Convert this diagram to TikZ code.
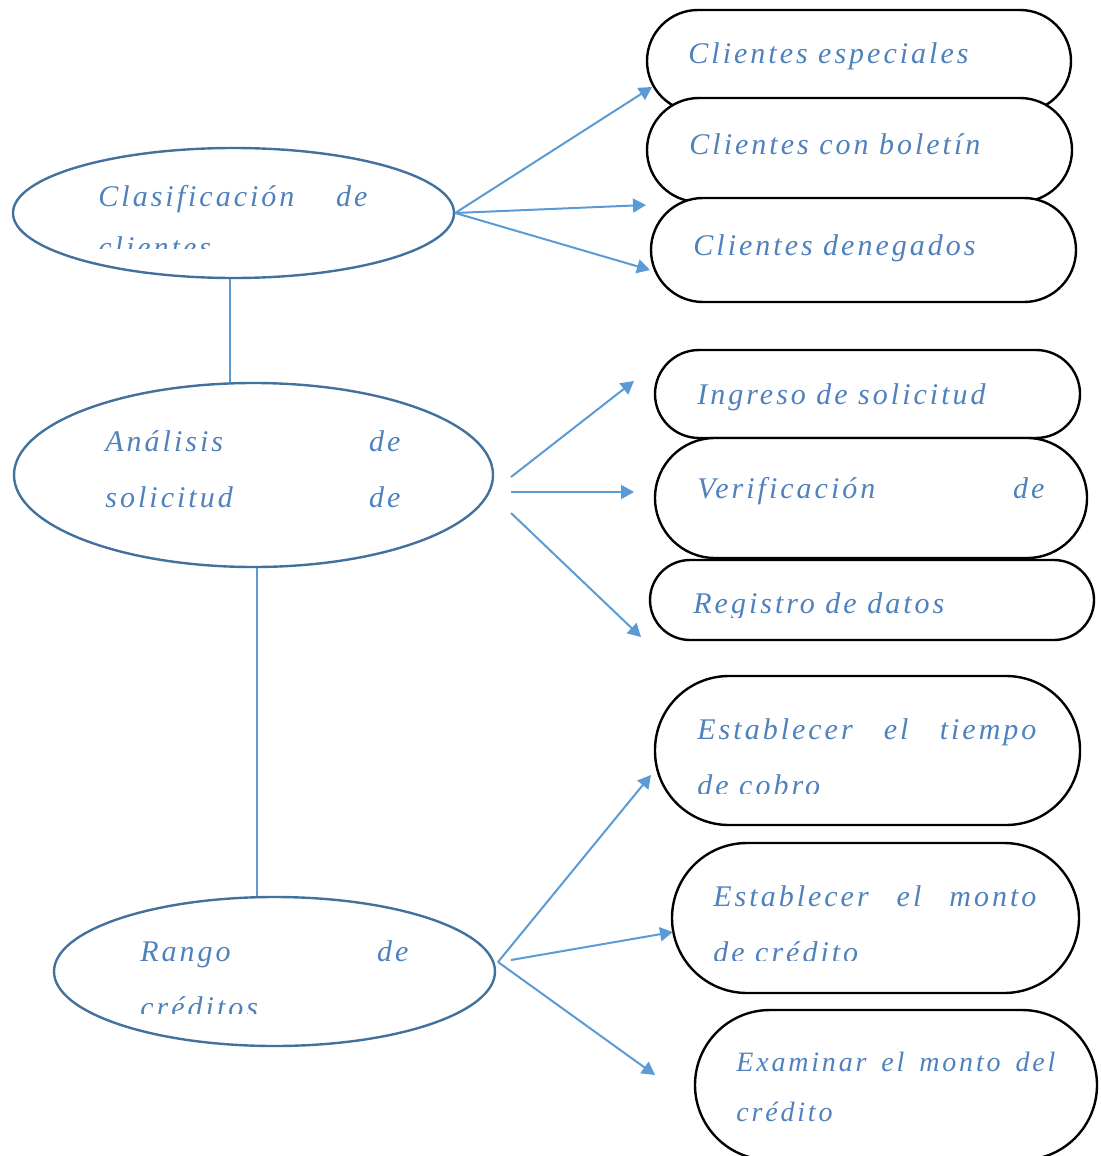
\documentclass[tikz,border=0pt]{standalone}
\usepackage{fontspec}
\newfontfamily\camb{Liberation Serif}[LetterSpace=10]
\usetikzlibrary{shapes.geometric,arrows.meta}
\definecolor{elipblue}{HTML}{41719C}
\definecolor{txtblue}{HTML}{4F81BD}
\definecolor{arrblue}{HTML}{5B9BD5}
\tikzset{
  elip/.style={ellipse,draw=elipblue,line width=1.2pt,inner sep=0pt},
  pill/.style={rectangle,draw=black,line width=1.2pt,fill=white,inner sep=0pt},
  lbl/.style={anchor=base west,inner sep=0pt,text=txtblue,font={\camb\itshape\fontsize{15pt}{28pt}\selectfont}},
  arr/.style={draw=arrblue,line width=1pt,-{Triangle[length=6.5pt,width=7pt]}},
  link/.style={draw=arrblue,line width=0.7pt}
}
\begin{document}
\begin{tikzpicture}[x=0.5pt,y=-0.5pt]
\useasboundingbox (0,0) rectangle (1100,1156);
% ellipses
\node[elip,minimum width=220.5pt,minimum height=65pt] (E1) at (233.5,213) {};
\node[elip,minimum width=239.5pt,minimum height=92pt] (E2) at (253.5,475) {};
\node[elip,minimum width=220.5pt,minimum height=74.5pt] (E3) at (274.5,971.5) {};
\draw[link] ([xshift=-1.75pt]E1.south) -- ([xshift=-1.75pt]E1.south |- E2.north);
\draw[link] ([xshift=1.75pt]E2.south) -- ([xshift=1.75pt]E2.south |- E3.north);
% boxes
\node[pill,minimum width=212pt,minimum height=51pt,rounded corners=25.5pt] (B1) at (859,61) {};
\node[pill,minimum width=212.5pt,minimum height=52pt,rounded corners=26pt] (B2) at (859.5,150) {};
\node[pill,minimum width=212.5pt,minimum height=52pt,rounded corners=26pt] (B3) at (863.5,250) {};
\node[pill,minimum width=212.5pt,minimum height=44pt,rounded corners=22pt] (B4) at (867.5,394) {};
\node[pill,minimum width=216pt,minimum height=60pt,rounded corners=30pt] (B5) at (871,498) {};
\node[pill,minimum width=222pt,minimum height=40pt,rounded corners=20pt] (B6) at (872,600) {};
\node[pill,minimum width=212.5pt,minimum height=74.5pt,rounded corners=37pt] (B7) at (867.5,750.5) {};
\node[pill,minimum width=203.5pt,minimum height=75pt,rounded corners=37.5pt] (B8) at (875.5,918) {};
\node[pill,minimum width=201pt,minimum height=75pt,rounded corners=37.5pt] (B9) at (896,1085) {};
% texts
\node[lbl] (e1a) at (98,206) {\makebox[134.5pt][s]{Clasificación de}};
\begin{scope}
\clip (0,150) rectangle (460,248);
\node[lbl] (e1b) at (98,257) {clientes};
\end{scope}
\node[lbl] (e2a) at (105,451) {\makebox[147.5pt][s]{Análisis de}};
\node[lbl] (e2b) at (105,507) {\makebox[147.5pt][s]{solicitud de}};
\node[lbl] (e3a) at (140,961) {\makebox[134pt][s]{Rango de}};
\begin{scope}
\clip (60,900) rectangle (490,1013);
\node[lbl] (e3b) at (140,1017) {créditos.};
\end{scope}
\node[lbl] (t1) at (688,64) {Clientes especiales};
\node[lbl] (t2) at (689,155) {Clientes con boletín};
\node[lbl] (t3) at (693,255) {Clientes denegados};
\node[lbl] (t4) at (697,404) {Ingreso de solicitud};
\node[lbl] (t5) at (697,498) {\makebox[173.5pt][s]{Verificación de}};
\begin{scope}
\clip (650,560) rectangle (1094,617);
\node[lbl] (t6) at (693,613) {Registro de datos};
\end{scope}
\node[lbl] (t7a) at (697,739) {\makebox[169.5pt][s]{Establecer el tiempo}};
\begin{scope}
\clip (655,760) rectangle (1080,793);
\node[lbl] (t7b) at (697,795) {de cobro};
\end{scope}
\node[lbl] (t8a) at (713,906) {\makebox[161.5pt][s]{Establecer el monto}};
\begin{scope}
\clip (672,930) rectangle (1079,960);
\node[lbl] (t8b) at (713,962) {de crédito};
\end{scope}
\node[lbl,font={\camb\itshape\fontsize{14pt}{26pt}\selectfont}] (t9a) at (736,1071) {\makebox[159.5pt][s]{Examinar el monto del}};
\node[lbl,font={\camb\itshape\fontsize{14pt}{26pt}\selectfont}] (t9b) at (736,1121) {crédito};
% arrows
\coordinate (g1a) at (652,87);
\coordinate (g1b) at (646,205);
\coordinate (g1c) at (650,270);
\draw[arr] (E1.east) -- (g1a);
\draw[arr] (E1.east) -- (g1b);
\draw[arr] (E1.east) -- (g1c);
\coordinate (s2a) at (511,477);
\coordinate (s2b) at (511,492);
\coordinate (s2c) at (511,513);
\coordinate (g2a) at (634,381);
\coordinate (g2b) at (634,492);
\coordinate (g2c) at (641,637);
\draw[arr] (s2a) -- (g2a);
\draw[arr] (s2b) -- (g2b);
\draw[arr] (s2c) -- (g2c);
\coordinate (s3a) at (498,962);
\coordinate (s3b) at (511,960);
\coordinate (g3a) at (651,775);
\coordinate (g3b) at (673,932);
\coordinate (g3c) at (655,1075);
\draw[arr] (s3a) -- (g3a);
\draw[arr] (s3b) -- (g3b);
\draw[arr] (s3a) -- (g3c);
\end{tikzpicture}
\end{document}
